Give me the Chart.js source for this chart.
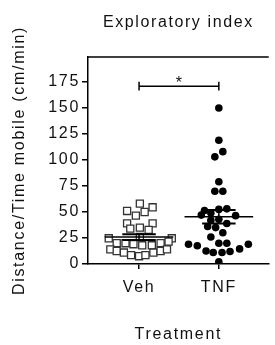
<!DOCTYPE html>
<html>
<head>
<meta charset="utf-8">
<script src="https://cdn.jsdelivr.net/npm/chart.js@4/dist/chart.umd.min.js"></script>
<style>
  html, body { margin: 0; padding: 0; background: #fff; }
  #wrap { width: 275px; height: 345px; }
</style>
</head>
<body>
<div id="wrap"><canvas id="chart" width="275" height="345"></canvas></div>
<script>
// Exploratory index: individual animals with mean +/- SEM

const chartTitle = 'Exploratory index';
const yTitle = 'Distance/Time mobile (cm/min)';
const xTitle = 'Treatment';
const groups = ['Veh', 'TNF'];
const yTicks = [0, 25, 50, 75, 100, 125, 150, 175];

// Veh values (cm/min) and their scatter offset from the group centre (in category units)
const vehValues = [58, 54.5, 51, 50, 46.5, 39, 39, 35, 34, 32.7,
  24.7, 26, 24.7, 20, 20, 19, 18, 18, 20, 21.5,
  14, 12.5, 11, 8.5, 7.5, 8.5, 11, 12.5, 14];
const vehSpread = [0.01, 0.17, -0.15, 0.07, -0.04, -0.15, 0.17, 0.01, -0.11, 0.12,
  -0.38, 0.01, 0.41, -0.28, -0.17, -0.07, 0.04, 0.16, 0.27, 0.37,
  -0.36, -0.28, -0.19, -0.10, 0, 0.08, 0.18, 0.27, 0.35];

// TNF values
const tnfValues = [150, 119, 108, 103, 79, 70, 70,
  47, 51.5, 49, 52.5, 53, 46.5,
  42, 43, 36, 35, 39, 26, 30,
  19, 17.6, 20, 20,
  12.5, 11, 11, 12, 14.5, 19, 2];
const tnfSpread = [0, 0, 0.05, -0.05, 0, -0.05, 0.05,
  -0.22, -0.18, -0.10, 0, 0.10, 0.21,
  -0.10, 0, -0.14, -0.04, 0.10, -0.10, 0.05,
  -0.38, -0.27, 0, 0.10,
  -0.16, -0.07, 0.04, 0.14, 0.26, 0.37, 0];

// significance bracket between the two groups
const sigLevel = 171;
const sigLabel = '*';

function mean(a) { return a.reduce((s, v) => s + v, 0) / a.length; }
function sem(a) {
  const m = mean(a);
  const sd = Math.sqrt(a.reduce((s, v) => s + (v - m) * (v - m), 0) / (a.length - 1));
  return sd / Math.sqrt(a.length);
}

function points(values, spread, pos) {
  return values.map((v, i) => ({ x: pos + spread[i], y: v }));
}

const FONT = "'Liberation Sans', Arial, sans-serif";
const halfMean = 0.43, halfCap = 0.21, tickHalf = 4.3;

function statLines(values, pos) {
  const m = mean(values), e = sem(values);
  return [
    { type: 'line', data: [{ x: pos - halfMean, y: m }, { x: pos + halfMean, y: m }],
      borderColor: '#000', borderWidth: 1.5, pointRadius: 0, showLine: true },
    { type: 'line', data: [{ x: pos - halfCap, y: m + e }, { x: pos + halfCap, y: m + e }],
      borderColor: '#000', borderWidth: 2, pointRadius: 0, showLine: true },
    { type: 'line', data: [{ x: pos - halfCap, y: m - e }, { x: pos + halfCap, y: m - e }],
      borderColor: '#000', borderWidth: 2, pointRadius: 0, showLine: true },
    { type: 'line', data: [{ x: pos, y: m - e }, { x: pos, y: m + e }],
      borderColor: '#000', borderWidth: 1.5, pointRadius: 0, showLine: true }
  ];
}

const datasets = [
  { type: 'line',
    data: [{ x: 1, y: sigLevel + tickHalf }, { x: 1, y: sigLevel - tickHalf }, { x: 1, y: sigLevel },
           { x: 2, y: sigLevel }, { x: 2, y: sigLevel + tickHalf }, { x: 2, y: sigLevel - tickHalf }],
    borderColor: '#000', borderWidth: 1.5, pointRadius: 0, showLine: true },
  ...statLines(vehValues, 1),
  ...statLines(tnfValues, 2),
  { label: groups[0], data: points(vehValues, vehSpread, 1),
    pointStyle: 'rect', pointRadius: 5, backgroundColor: '#fff',
    borderColor: '#333', borderWidth: 1.3 },
  { label: groups[1], data: points(tnfValues, tnfSpread, 2),
    pointStyle: 'circle', pointRadius: 3.8, backgroundColor: '#000',
    borderColor: '#000', borderWidth: 0 }
];

const decor = {
  id: 'decor',
  beforeDraw(chart) {
    chart.ctx.letterSpacing = '1.7px';
  },
  afterDraw(chart) {
    const { ctx, chartArea, scales } = chart;
    ctx.save();
    // top frame line
    ctx.strokeStyle = '#000';
    ctx.lineWidth = 1.5;
    ctx.beginPath();
    ctx.moveTo(chartArea.left, chartArea.top);
    ctx.lineTo(chartArea.right, chartArea.top);
    ctx.stroke();
    // title
    ctx.fillStyle = '#111';
    ctx.font = '16px ' + FONT;
    ctx.letterSpacing = '1.6px';
    ctx.textAlign = 'center';
    ctx.textBaseline = 'middle';
    ctx.fillText(chartTitle, (chartArea.left + chartArea.right) / 2, 23);
    // significance star
    ctx.letterSpacing = '0px';
    ctx.textBaseline = 'alphabetic';
    ctx.font = '16px ' + FONT;
    ctx.fillText(sigLabel, scales.x.getPixelForValue(1.5), scales.y.getPixelForValue(sigLevel) + 2);
    ctx.restore();
  }
};

new Chart(document.getElementById('chart'), {
  type: 'scatter',
  data: { datasets: datasets },
  plugins: [decor],
  options: {
    responsive: false,
    animation: false,
    layout: { padding: { top: 57, right: 0, bottom: 0, left: 0 } },
    plugins: { legend: { display: false }, tooltip: { enabled: false } },
    scales: {
      x: {
        type: 'linear', min: 0.36, max: 2.625,
        afterFit(s) { s.height = 81; },
        afterBuildTicks(s) { s.ticks = groups.map((g, i) => ({ value: i + 1 })); },
        ticks: {
          color: '#111', font: { family: FONT, size: 16 }, padding: 9,
          callback: (v) => groups[Math.round(v) - 1]
        },
        grid: { display: true, drawOnChartArea: false, drawTicks: true, tickLength: 5, color: '#000', lineWidth: 1.5 },
        border: { display: true, color: '#000', width: 1.5 },
        title: { display: true, text: xTitle, color: '#111', font: { family: FONT, size: 16 }, padding: { top: 0, bottom: 1 } }
      },
      y: {
        min: 0, max: 199,
        afterFit(s) { s.width = 88; },
        afterBuildTicks(s) { s.ticks = yTicks.map(v => ({ value: v })); },
        ticks: { color: '#111', font: { family: FONT, size: 16 }, padding: 2 },
        grid: { display: true, drawOnChartArea: false, drawTicks: true, tickLength: 6, color: '#000', lineWidth: 1.5 },
        border: { display: true, color: '#000', width: 1.5 },
        title: { display: true, text: yTitle, color: '#111', font: { family: FONT, size: 16 }, padding: { top: 10, bottom: 0 } }
      }
    }
  }
});
</script>
</body>
</html>
